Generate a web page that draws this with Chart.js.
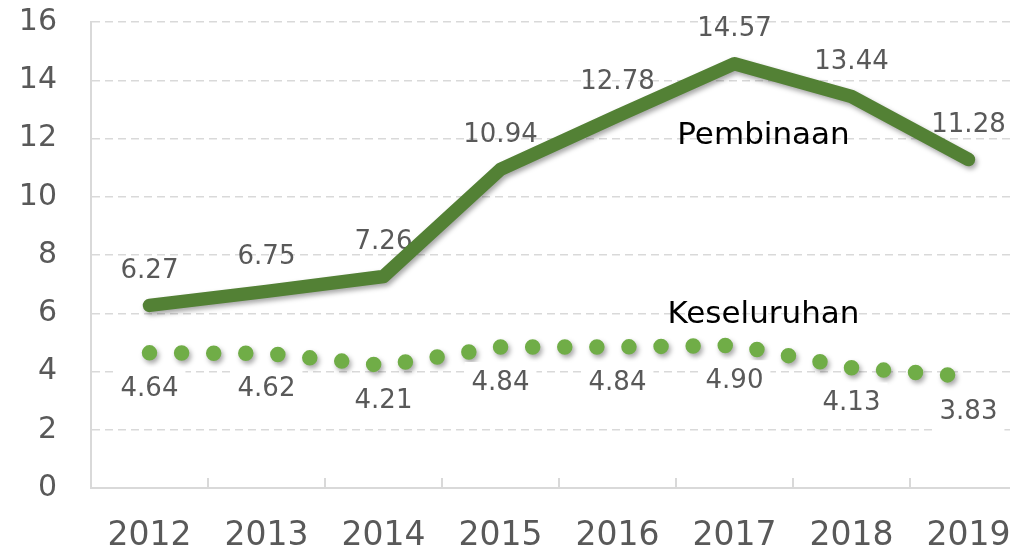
<!DOCTYPE html>
<html>
<head>
<meta charset="utf-8">
<script src="https://cdn.jsdelivr.net/npm/chart.js@4"></script>
<style>
    html, body { margin: 0; padding: 0; background: #fff; overflow: hidden; }
    #wrap { width: 1030px; height: 551px; }
</style>
</head>
<body>
<div id="wrap"><canvas id="chart" width="1030" height="551"></canvas></div>
<script>
    const years = ['2012', '2013', '2014', '2015', '2016', '2017', '2018', '2019'];
    const pembinaan = [6.27, 6.75, 7.26, 10.94, 12.78, 14.57, 13.44, 11.28];
    const keseluruhan = [4.64, 4.62, 4.21, 4.84, 4.84, 4.90, 4.13, 3.83];
    const seriesNames = ['Pembinaan', 'Keseluruhan'];
    const yMin = 0;
    const yMax = 16;
    const yStep = 2;

    const font = '"DejaVu Sans", sans-serif';
    const grey = '#595959';
    const gridGrey = '#D9D9D9';

    // soft drop shadow under both lines
    const shadowPlugin = {
        id: 'shadow',
        beforeDatasetDraw(chart) {
            const ctx = chart.ctx;
            ctx.save();
            ctx.shadowColor = 'rgba(0, 0, 0, 0.35)';
            ctx.shadowBlur = 5;
            ctx.shadowOffsetX = 2;
            ctx.shadowOffsetY = 3;
        },
        afterDatasetDraw(chart) {
            chart.ctx.restore();
        }
    };

    const labelPlugin = {
        id: 'labels',
        beforeDatasetsDraw(chart) {
            const ctx = chart.ctx;
            const x = chart.scales.x;
            const y = chart.scales.y;
            ctx.save();
            ctx.font = '26px ' + font;
            ctx.fillStyle = grey;
            ctx.textAlign = 'center';
            ctx.textBaseline = 'middle';
            pembinaan.forEach((v, i) => {
                ctx.fillText(v.toFixed(2), x.getPixelForValue(i), y.getPixelForValue(v) - 34);
            });
            ctx.restore();
        },
        afterDatasetsDraw(chart) {
            const ctx = chart.ctx;
            const x = chart.scales.x;
            const y = chart.scales.y;
            const area = chart.chartArea;
            ctx.save();

            // inner tick marks between categories
            ctx.strokeStyle = gridGrey;
            ctx.lineWidth = 2;
            const half = (x.getPixelForValue(1) - x.getPixelForValue(0)) / 2;
            for (let i = 1; i < years.length; i++) {
                const px = Math.round(x.getPixelForValue(i) - half);
                ctx.beginPath();
                ctx.moveTo(px, area.bottom);
                ctx.lineTo(px, area.bottom - 10);
                ctx.stroke();
            }

            // labels under the dotted line, on white boxes
            ctx.font = '26px ' + font;
            ctx.textAlign = 'center';
            ctx.textBaseline = 'middle';
            keseluruhan.forEach((v, i) => {
                const px = x.getPixelForValue(i);
                const py = y.getPixelForValue(v) + 36;
                const txt = v.toFixed(2);
                const w = ctx.measureText(txt).width;
                ctx.fillStyle = '#fff';
                ctx.fillRect(px - w / 2 - 7, py - 21, w + 14, 42);
                ctx.fillStyle = grey;
                ctx.fillText(txt, px, py);
            });

            // series names
            ctx.font = '31px ' + font;
            ctx.fillStyle = '#000';
            const nx = x.getPixelForValue(5) + 29;
            ctx.fillText(seriesNames[0], nx, y.getPixelForValue(12.1));
            ctx.fillText(seriesNames[1], nx, y.getPixelForValue(5.95));
            ctx.restore();
        }
    };

    new Chart(document.getElementById('chart'), {
        type: 'line',
        data: {
            labels: years,
            datasets: [
                {
                    label: seriesNames[0],
                    data: pembinaan,
                    borderColor: '#538135',
                    borderWidth: 13.5,
                    borderCapStyle: 'round',
                    borderJoinStyle: 'round',
                    pointRadius: 0,
                    tension: 0,
                    fill: false
                },
                {
                    label: seriesNames[1],
                    data: keseluruhan,
                    borderColor: '#70AD47',
                    borderWidth: 15.5,
                    borderDash: [0, 32.1],
                    borderCapStyle: 'round',
                    pointRadius: 0,
                    tension: 0,
                    fill: false
                }
            ]
        },
        options: {
            responsive: false,
            animation: false,
            devicePixelRatio: 1,
            layout: { padding: { top: 22, right: 3, left: 0, bottom: 0 } },
            plugins: {
                legend: { display: false },
                tooltip: { enabled: false }
            },
            scales: {
                x: {
                    offset: true,
                    grid: { display: false, drawTicks: false },
                    border: { display: true, color: gridGrey, width: 2 },
                    ticks: {
                        color: grey,
                        font: { family: font, size: 33 },
                        padding: 29,
                        maxRotation: 0,
                        autoSkip: false
                    },
                    afterFit(scale) {
                        scale.height = 63;
                        scale.paddingLeft = 0;
                        scale.paddingRight = 0;
                    }
                },
                y: {
                    min: yMin,
                    max: yMax,
                    grid: { color: gridGrey, lineWidth: 1.5, drawTicks: false },
                    border: { display: true, color: gridGrey, width: 2, dash: [8, 5] },
                    ticks: {
                        stepSize: yStep,
                        color: grey,
                        font: { family: font, size: 30 },
                        padding: 34
                    },
                    afterFit(scale) {
                        scale.width = 91;
                        scale.paddingTop = 0;
                        scale.paddingBottom = 0;
                    }
                }
            }
        },
        plugins: [shadowPlugin, labelPlugin]
    });
</script>
</body>
</html>
